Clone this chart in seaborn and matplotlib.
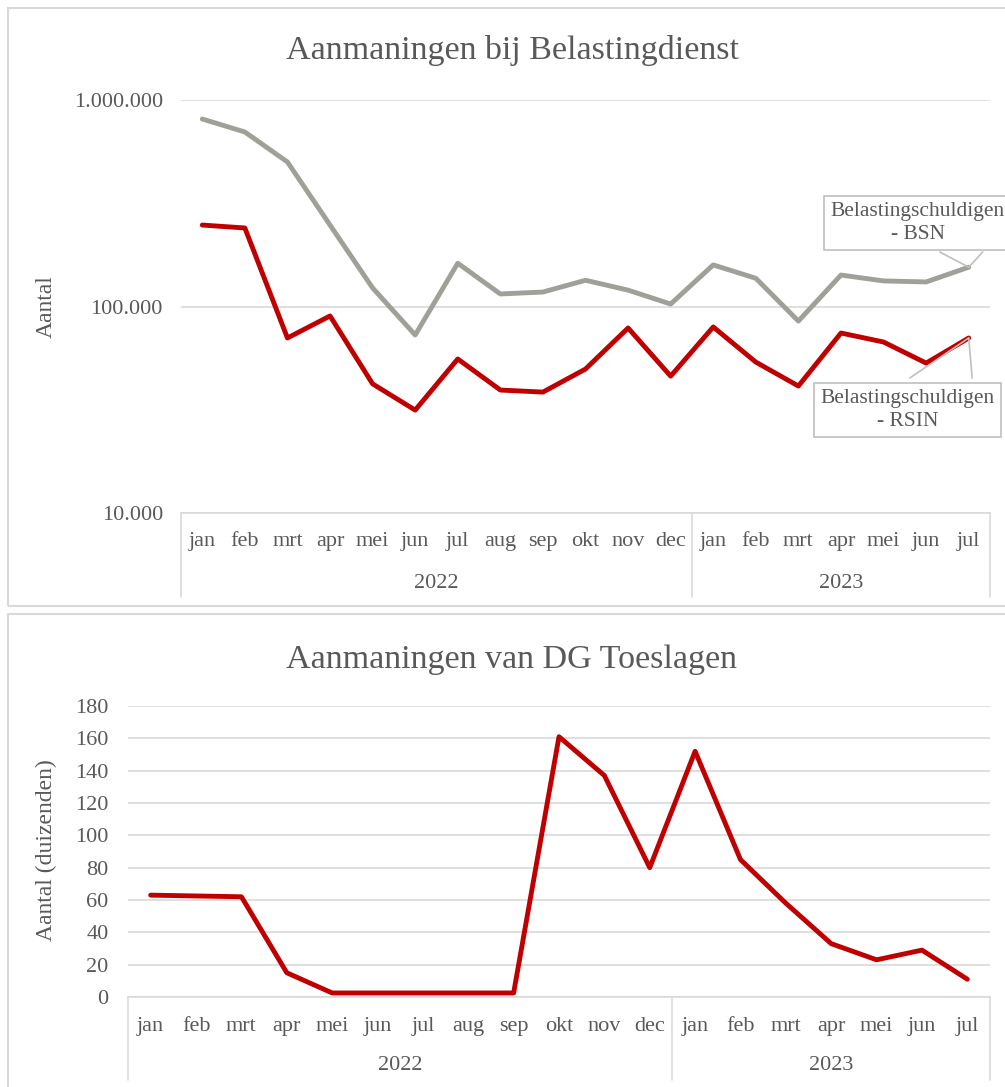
import pandas as pd
import matplotlib.pyplot as plt
import seaborn as sns
from matplotlib.patches import Rectangle
import matplotlib.transforms as mtransforms

# Data
maanden = ['jan', 'feb', 'mrt', 'apr', 'mei', 'jun', 'jul', 'aug', 'sep', 'okt', 'nov', 'dec',
           'jan', 'feb', 'mrt', 'apr', 'mei', 'jun', 'jul']
jaren = ['2022'] * 12 + ['2023'] * 7

bsn = [809000, 700000, 501000, 248000, 123000, 72800, 162000, 115000, 117500, 134000,
       120000, 102800, 159000, 137000, 85000, 142000, 133000, 131500, 155000]
rsin = [248000, 240000, 70400, 90000, 42200, 31500, 55700, 39400, 38500, 49800,
        78700, 46000, 79600, 53800, 41200, 74400, 67300, 53200, 70400]
toeslagen = [63, 62.5, 62, 15, 2.5, 2.5, 2.5, 2.5, 2.5, 161, 137, 80,
             152, 85, 58, 33, 23, 29, 11]

df = pd.DataFrame({'idx': range(len(maanden)), 'maand': maanden, 'jaar': jaren,
                   'BSN': bsn, 'RSIN': rsin, 'Toeslagen': toeslagen})

sns.set_theme(style='white')
plt.rcParams['font.family'] = ['Liberation Serif', 'DejaVu Serif']

RED = '#C00000'
GREY = '#A09F98'
TXT = '#595959'
GRID = '#D9D9D9'
LBL = 16
line_kw = dict(lw=3.5, solid_capstyle='round', solid_joinstyle='round')

fig = plt.figure(figsize=(10.05, 10.87), dpi=100)
fig.patch.set_facecolor('white')

# panel frames
fig.patches.append(Rectangle((8 / 1005, 1 - 606 / 1087), 1.2, 598 / 1087, transform=fig.transFigure,
                             fill=False, edgecolor=GRID, lw=1.5))
fig.patches.append(Rectangle((8 / 1005, -0.1), 1.2, 1 - 614 / 1087 + 0.1, transform=fig.transFigure,
                             fill=False, edgecolor=GRID, lw=1.5))


def category_axis(ax, sep_depth, month_off, year_off):
    n = len(maanden)
    ax.set_xlim(-0.5, n - 0.5)
    ax.set_xticks(range(n))
    ax.set_xticklabels([])
    ax.tick_params(axis='x', length=0)
    trans = mtransforms.blended_transform_factory(ax.transData, ax.transAxes)
    for x in [-0.5, 11.5, n - 0.5]:
        ax.plot([x, x], [0, -sep_depth], transform=trans, color=GRID, lw=1.2, clip_on=False)
    for i, m in enumerate(maanden):
        ax.text(i, -month_off, m, transform=trans, ha='center', va='center', fontsize=LBL, color=TXT)
    ax.text(5.5, -year_off, '2022', transform=trans, ha='center', va='center', fontsize=LBL, color=TXT)
    ax.text(15, -year_off, '2023', transform=trans, ha='center', va='center', fontsize=LBL, color=TXT)
    for s in ['top', 'right', 'left']:
        ax.spines[s].set_visible(False)
    ax.spines['bottom'].set_color(GRID)
    ax.spines['bottom'].set_linewidth(1.2)


# Top chart: Belastingdienst (log scale)
ax1 = fig.add_axes([181 / 1005, 1 - 513 / 1087, 809 / 1005, 413 / 1087])
sns.lineplot(data=df, x='idx', y='BSN', ax=ax1, color=GREY, **line_kw)
sns.lineplot(data=df, x='idx', y='RSIN', ax=ax1, color=RED, **line_kw)
ax1.set_yscale('log')
ax1.set_ylim(1e4, 1e6)
ax1.set_yticks([1e4, 1e5, 1e6])
ax1.set_yticklabels(['10.000', '100.000', '1.000.000'])
ax1.minorticks_off()
ax1.tick_params(axis='y', length=0, pad=13, labelsize=LBL, labelcolor=TXT)
ax1.yaxis.grid(True, color=GRID, lw=1.2)
ax1.set_xlabel('')
ax1.set_ylabel('Aantal', fontsize=17, color=TXT)
ax1.yaxis.set_label_coords(-0.153, 0.5)
category_axis(ax1, 0.203, 0.068, 0.170)
fig.text(512 / 1005, 1 - 50 / 1087, 'Aanmaningen bij Belastingdienst', ha='center', va='center',
         fontsize=24.5, color=TXT)

# callouts
box = dict(boxstyle='square,pad=0.3', fc='white', ec='#BFBFBF', lw=1.2)
ax1.text(0.911, 0.702, 'Belastingschuldigen\n- BSN', transform=ax1.transAxes, ha='center', va='center',
         fontsize=15.5, color=TXT, bbox=box, zorder=5, linespacing=1.25)
for fx in [0.938, 0.991]:
    ax1.annotate('', xy=(18, bsn[-1]), xytext=(fx, 0.632), textcoords='axes fraction',
                 arrowprops=dict(arrowstyle='-', color='#BFBFBF', lw=1.2, shrinkA=0, shrinkB=0),
                 annotation_clip=False)
ax1.text(0.898, 0.249, 'Belastingschuldigen\n- RSIN', transform=ax1.transAxes, ha='center', va='center',
         fontsize=15.5, color=TXT, bbox=box, zorder=5, linespacing=1.25)
for fx in [0.901, 0.978]:
    ax1.annotate('', xy=(18, rsin[-1]), xytext=(fx, 0.327), textcoords='axes fraction',
                 arrowprops=dict(arrowstyle='-', color='#BFBFBF', lw=1.2, shrinkA=0, shrinkB=0),
                 annotation_clip=False)

# Bottom chart: DG Toeslagen
ax2 = fig.add_axes([128 / 1005, 1 - 997 / 1087, 862 / 1005, 291 / 1087])
sns.lineplot(data=df, x='idx', y='Toeslagen', ax=ax2, color=RED, **line_kw)
ax2.set_ylim(0, 180)
ax2.set_yticks(range(0, 181, 20))
ax2.tick_params(axis='y', length=0, pad=14, labelsize=LBL, labelcolor=TXT)
ax2.yaxis.grid(True, color=GRID, lw=1.2)
ax2.set_xlabel('')
ax2.set_ylabel('Aantal (duizenden)', fontsize=17, color=TXT)
ax2.yaxis.set_label_coords(-0.082, 0.505)
category_axis(ax2, 0.285, 0.10, 0.234)
fig.text(512 / 1005, 1 - 660 / 1087, 'Aanmaningen van DG Toeslagen', ha='center', va='center',
         fontsize=24.5, color=TXT)

fig.savefig('out.png', dpi=100, facecolor='white')
